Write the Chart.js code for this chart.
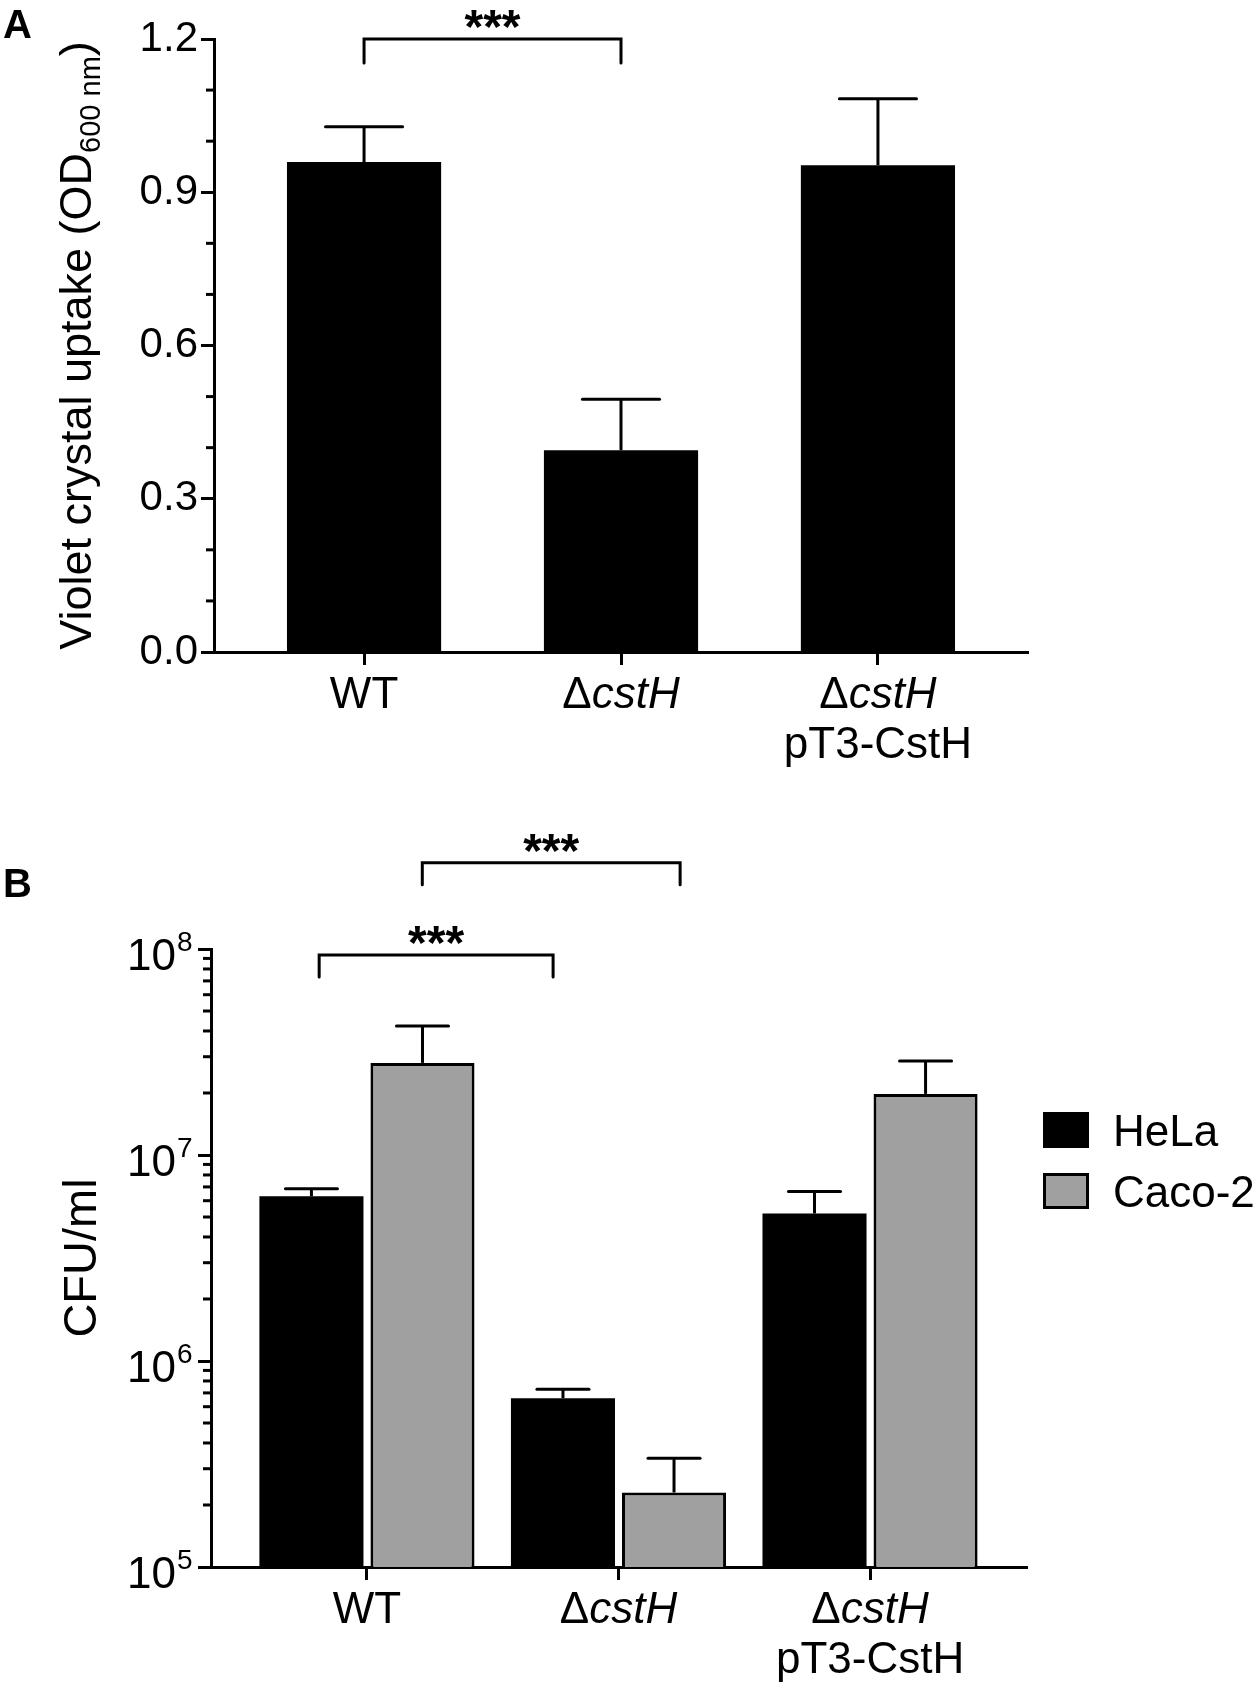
<!DOCTYPE html>
<html><head><meta charset="utf-8">
<script src="https://cdn.jsdelivr.net/npm/chart.js@4.4.1/dist/chart.umd.min.js"></script>
<style>
html,body{margin:0;padding:0;background:#fff;}
#wrap{position:relative;width:1258px;height:1686px;overflow:hidden;}
canvas{position:absolute;left:0;}
</style></head><body>
<div id="wrap">
<canvas id="chartA" width="1258" height="780" style="top:0;width:1258px;height:780px"></canvas>
<canvas id="chartB" width="1258" height="906" style="top:780px;width:1258px;height:906px"></canvas>
</div>
<script>
// ---------- data ----------
const categories = [['WT'], ['ΔcstH'], ['ΔcstH', 'pT3-CstH']];
const uptakeValues = [0.959, 0.395, 0.953];
const uptakeErrors = [0.069, 0.100, 0.130];
const uptakeTicks = [0, 0.3, 0.6, 0.9, 1.2];
const uptakeMinorTicks = [0.1, 0.2, 0.4, 0.5, 0.7, 0.8, 1.0, 1.1];
const uptakeTitle = ['Violet crystal uptake (OD', '600 nm', ')'];

const cellLines = ['HeLa', 'Caco-2'];
const helaValues = [6.3e6, 6.6e5, 5.2e6];
const helaErrors = [0.55e6, 0.7e5, 1.45e6];
const cacoValues = [2.8e7, 2.3e5, 1.98e7];
const cacoErrors = [1.43e7, 1.07e5, 0.88e7];
const cfuExponents = [5, 6, 7, 8];
const cfuTitle = 'CFU/ml';

// significance brackets: ends on the x axis (category units) and level on the y axis
const bracketEndsA = [[0, 1]];
const bracketLevelsA = [1.2];
const bracketEndsB = [[-0.19, 0.74], [0.22, 1.245]];
const bracketLevelsB = [9.35e7, 2.62e8];
const bracketLabel = '***';

// ---------- helpers ----------
const FAM = "'Liberation Sans', Arial, Helvetica, sans-serif";
const F = (size, style) => (style ? style + ' ' : '') + size + 'px ' + FAM;
Chart.defaults.color = '#000';

function drawSegments(ctx, segs, x, y, align) {
  let total = 0;
  segs.forEach(s => { ctx.font = s.font; s.w = ctx.measureText(s.t).width; total += s.w; });
  let cx = align === 'center' ? x - total / 2 : (align === 'right' ? x - total : x);
  ctx.textAlign = 'left';
  ctx.textBaseline = 'alphabetic';
  segs.forEach(s => { ctx.font = s.font; ctx.fillText(s.t, cx, y + (s.dy || 0)); cx += s.w; });
}
function labelSegs(line, size) {
  if (line.startsWith('Δ')) return [{t: 'Δ', font: F(size)}, {t: line.slice(1), font: F(size, 'italic')}];
  return [{t: line, font: F(size)}];
}
function drawStars(ctx, text, cx, cy, size) {
  ctx.font = F(size, 'bold');
  const m = ctx.measureText(text);
  ctx.textAlign = 'center';
  ctx.textBaseline = 'alphabetic';
  ctx.fillText(text, cx, cy + (m.actualBoundingBoxAscent - m.actualBoundingBoxDescent) / 2);
}
function line(ctx, x1, y1, x2, y2, cap) {
  ctx.beginPath(); ctx.lineCap = cap || 'butt';
  ctx.moveTo(x1, y1); ctx.lineTo(x2, y2); ctx.stroke();
}

const errorBarPlugin = {
  id: 'errorBars',
  afterDatasetsDraw(chart) {
    const ctx = chart.ctx, ys = chart.scales.y;
    ctx.save(); ctx.strokeStyle = '#000'; ctx.lineWidth = 3;
    chart.data.datasets.forEach((ds, di) => {
      chart.getDatasetMeta(di).data.forEach((bar, j) => {
        const top = ys.getPixelForValue(ds.data[j].y + ds.errors[j]);
        const half = bar.width / 4;
        line(ctx, bar.x, bar.y, bar.x, top, 'butt');
        line(ctx, bar.x - half, top, bar.x + half, top, 'round');
      });
    });
    ctx.restore();
  }
};

function bracketPlugin(ends, levels, drop) {
  return {
    id: 'brackets',
    afterDraw(chart) {
      const ctx = chart.ctx, xs = chart.scales.x, ys = chart.scales.y;
      ctx.save(); ctx.strokeStyle = '#000'; ctx.fillStyle = '#000'; ctx.lineWidth = 3;
      ends.forEach((p, k) => {
        const x1 = xs.getPixelForValue(p[0]), x2 = xs.getPixelForValue(p[1]);
        const y = ys.getPixelForValue(levels[k]);
        ctx.beginPath(); ctx.lineCap = 'round'; ctx.lineJoin = 'miter';
        ctx.moveTo(x1, y + drop); ctx.lineTo(x1, y); ctx.lineTo(x2, y); ctx.lineTo(x2, y + drop); ctx.stroke();
        drawStars(ctx, bracketLabel, (x1 + x2) / 2, y - 20, 48);
      });
      ctx.restore();
    }
  };
}

function xLabelPlugin() {
  return {
    id: 'xLabels',
    afterDraw(chart) {
      const ctx = chart.ctx, xs = chart.scales.x, area = chart.chartArea;
      ctx.save(); ctx.fillStyle = '#000';
      categories.forEach((lines, i) => {
        const x = xs.getPixelForValue(i);
        lines.forEach((ln, k) => drawSegments(ctx, labelSegs(ln, 44), x, area.bottom + 56 + k * 50, 'center'));
      });
      ctx.restore();
    }
  };
}

// ---------- Panel A ----------
const panelAPlugin = {
  id: 'panelA',
  afterDraw(chart) {
    const ctx = chart.ctx, ys = chart.scales.y, area = chart.chartArea;
    ctx.save(); ctx.strokeStyle = '#000'; ctx.fillStyle = '#000'; ctx.lineWidth = 3;
    uptakeMinorTicks.forEach(v => { const y = ys.getPixelForValue(v); line(ctx, area.left - 8, y, area.left - 1, y); });
    ctx.translate(91, (area.top + area.bottom) / 2);
    ctx.rotate(-Math.PI / 2);
    drawSegments(ctx, [
      {t: uptakeTitle[0], font: F(45)},
      {t: uptakeTitle[1], font: F(29), dy: 9},
      {t: uptakeTitle[2], font: F(45)}
    ], 0, 0, 'center');
    ctx.restore();
    ctx.save(); ctx.fillStyle = '#000'; ctx.font = F(40, 'bold'); ctx.textAlign = 'left'; ctx.textBaseline = 'alphabetic';
    ctx.fillText('A', 3, 38);
    ctx.restore();
  }
};

new Chart(document.getElementById('chartA'), {
  type: 'bar',
  data: {
    datasets: [{
      label: 'Violet crystal uptake',
      data: uptakeValues.map((v, i) => ({x: i, y: v})),
      errors: uptakeErrors,
      backgroundColor: '#000', borderWidth: 0,
      barPercentage: 0.6, categoryPercentage: 1
    }]
  },
  options: {
    responsive: false, animation: false, events: [],
    layout: {padding: {top: 39, right: 230, left: 0, bottom: 0}},
    plugins: {legend: {display: false}, tooltip: {enabled: false}},
    scales: {
      x: {
        type: 'linear', min: -0.584, max: 2.584, offset: false,
        afterBuildTicks: s => { s.ticks = categories.map((c, i) => ({value: i})); },
        afterFit: s => { s.height = 128; },
        ticks: {display: false},
        grid: {display: true, offset: false, drawOnChartArea: false, drawTicks: true, tickLength: 13, tickWidth: 3, tickColor: '#000'},
        border: {display: true, width: 3, color: '#000'}
      },
      y: {
        type: 'linear', min: 0, max: 1.2,
        afterBuildTicks: s => { s.ticks = uptakeTicks.map(v => ({value: v})); },
        afterFit: s => { s.width = 214; },
        ticks: {font: {family: FAM, size: 42}, color: '#000', padding: 3, callback: v => Number(v).toFixed(1)},
        grid: {display: true, drawOnChartArea: false, drawTicks: true, tickLength: 13, tickWidth: 3, tickColor: '#000'},
        border: {display: true, width: 3, color: '#000'}
      }
    }
  },
  plugins: [errorBarPlugin, bracketPlugin(bracketEndsA, bracketLevelsA, 24), xLabelPlugin(), panelAPlugin]
});

// ---------- Panel B ----------
const panelBPlugin = {
  id: 'panelB',
  afterDraw(chart) {
    const ctx = chart.ctx, ys = chart.scales.y, area = chart.chartArea;
    ctx.save(); ctx.strokeStyle = '#000'; ctx.fillStyle = '#000'; ctx.lineWidth = 3;
    // minor log ticks
    for (let e = cfuExponents[0]; e < cfuExponents[cfuExponents.length - 1]; e++) {
      for (let m = 2; m <= 9; m++) {
        const y = ys.getPixelForValue(m * Math.pow(10, e));
        line(ctx, area.left - 8, y, area.left - 1, y);
      }
    }
    // tick labels 10^n
    ctx.textBaseline = 'alphabetic';
    cfuExponents.forEach(e => {
      const y = ys.getPixelForValue(Math.pow(10, e));
      ctx.font = F(44); ctx.textAlign = 'right'; ctx.fillText('10', area.left - 35, y + 21);
      ctx.font = F(28); ctx.textAlign = 'left'; ctx.fillText(String(e), area.left - 34, y + 2);
    });
    // axis title
    ctx.save();
    ctx.translate(96, (area.top + area.bottom) / 2);
    ctx.rotate(-Math.PI / 2);
    drawSegments(ctx, [{t: cfuTitle, font: F(47)}], 0, 0, 'center');
    ctx.restore();
    // legend
    const lx = area.right + 16, ly = area.top + 163;
    chart.data.datasets.forEach((ds, i) => {
      const top = ly + i * 61;
      ctx.fillStyle = ds.backgroundColor;
      ctx.fillRect(lx, top, 46, 36);
      if (ds.borderWidth) { ctx.lineWidth = 3; ctx.strokeStyle = '#000'; ctx.strokeRect(lx + 1.5, top + 1.5, 43, 33); }
      ctx.fillStyle = '#000';
      drawSegments(ctx, [{t: ds.label, font: F(44)}], lx + 70, top + 18 + 16, 'left');
    });
    // panel letter
    ctx.font = F(40, 'bold'); ctx.textAlign = 'left';
    ctx.fillText('B', 3, 117);
    ctx.restore();
  }
};

new Chart(document.getElementById('chartB'), {
  type: 'bar',
  data: {
    datasets: [
      {label: cellLines[0], data: helaValues.map((v, i) => ({x: i, y: v})), errors: helaErrors,
       backgroundColor: '#000', borderWidth: 0},
      {label: cellLines[1], data: cacoValues.map((v, i) => ({x: i, y: v})), errors: cacoErrors,
       backgroundColor: '#a0a0a0', borderColor: '#000', borderWidth: 3, borderSkipped: 'start'}
    ]
  },
  options: {
    responsive: false, animation: false, events: [],
    datasets: {bar: {categoryPercentage: 0.883, barPercentage: 0.937}},
    layout: {padding: {top: 169, right: 231, left: 0, bottom: 0}},
    plugins: {legend: {display: false}, tooltip: {enabled: false}},
    scales: {
      x: {
        type: 'linear', min: -0.62, max: 2.624, offset: false,
        afterBuildTicks: s => { s.ticks = categories.map((c, i) => ({value: i})); },
        afterFit: s => { s.height = 119; },
        ticks: {display: false},
        grid: {display: true, offset: false, drawOnChartArea: false, drawTicks: true, tickLength: 13, tickWidth: 3, tickColor: '#000'},
        border: {display: true, width: 3, color: '#000'}
      },
      y: {
        type: 'logarithmic', min: 1e5, max: 1e8,
        afterBuildTicks: s => { s.ticks = cfuExponents.map(e => ({value: Math.pow(10, e)})); },
        afterFit: s => { s.width = 211; },
        ticks: {display: false},
        grid: {display: true, drawOnChartArea: false, drawTicks: true, tickLength: 13, tickWidth: 3, tickColor: '#000'},
        border: {display: true, width: 3, color: '#000'}
      }
    }
  },
  plugins: [errorBarPlugin, bracketPlugin(bracketEndsB, bracketLevelsB, 22), xLabelPlugin(), panelBPlugin]
});
</script>
</body></html>
